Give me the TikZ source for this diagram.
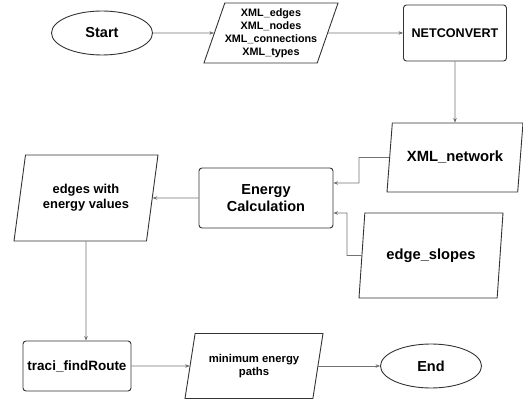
\documentclass[tikz,border=0pt]{standalone}
\usepackage{fontspec}
\setmainfont{Liberation Sans}
\usetikzlibrary{shapes.geometric}
\usetikzlibrary{arrows.meta}

\begin{document}
\begin{tikzpicture}[
  x=1pt,y=-1pt,
  >={Stealth[length=4.5pt,width=3.5pt]},
  term/.style={ellipse,draw=black!80,line width=0.9pt,minimum width=101pt,minimum height=44pt,inner sep=0pt,font=\fontsize{14.5}{17}\bfseries},
  proc/.style={rectangle,rounded corners=3pt,draw=black!80,line width=0.9pt,inner sep=0pt,align=center},
  io/.style={trapezium,trapezium left angle=67,trapezium right angle=113,trapezium stretches body=true,draw=black!80,line width=0.9pt,inner sep=0pt,align=center},
  link/.style={->,draw=black!55,line width=0.6pt}
]
  \useasboundingbox (0,0) rectangle (523,401);
  \node[term](start) at (102,33){Start};
  \node[io,minimum width=134pt,minimum height=60pt,font=\fontsize{10.8}{13}\bfseries](inputs) at (271,33){XML\_edges\\XML\_nodes\\XML\_connections\\XML\_types};
  \node[proc,minimum width=103pt,minimum height=56pt,font=\fontsize{12.6}{15}\bfseries](netconv) at (455,33){NETCONVERT};
  \node[io,minimum width=136pt,minimum height=69pt,font=\fontsize{14.8}{17}\bfseries](xmlnet) at (455,157.5){XML\_network};
  \node[proc,minimum width=134pt,minimum height=60pt,font=\fontsize{14.5}{17}\bfseries](energy) at (266,198){Energy\\Calculation};
  \node[io,minimum width=144pt,minimum height=86pt,font=\fontsize{12.9}{15}\bfseries](edges) at (86,198){edges with\\energy values};
  \node[io,minimum width=144pt,minimum height=85pt,font=\fontsize{14.7}{17}\bfseries](slopes) at (431,255.5){edge\_slopes};
  \node[proc,minimum width=108pt,minimum height=50pt,font=\fontsize{13.5}{16}\bfseries](traci) at (77,366){traci\_findRoute};
  \node[io,minimum width=138pt,minimum height=65pt,font=\fontsize{11.3}{13.3}\bfseries](minpath) at (254,366){minimum energy\\paths};
  \node[term](end) at (431,366){End};
  % elbows of the two inputs into the energy step
  \coordinate (netbend) at (359,157.5);
  \coordinate (slopebend) at (347,255.5);
  \path[link]
    (start) edge (inputs)
    (inputs) edge (netconv)
    (netconv) edge (xmlnet)
    (energy) edge (edges)
    (traci) edge (minpath)
    (minpath) edge (end)
  ;
  \draw[link] (xmlnet) -- (netbend) |- ([yshift=15pt]energy.east);
  \draw[link] (slopes) -- (slopebend) |- ([yshift=-15pt]energy.east);
  \draw[link] (edges) -- (edges |- traci.north);
\end{tikzpicture}
\end{document}
